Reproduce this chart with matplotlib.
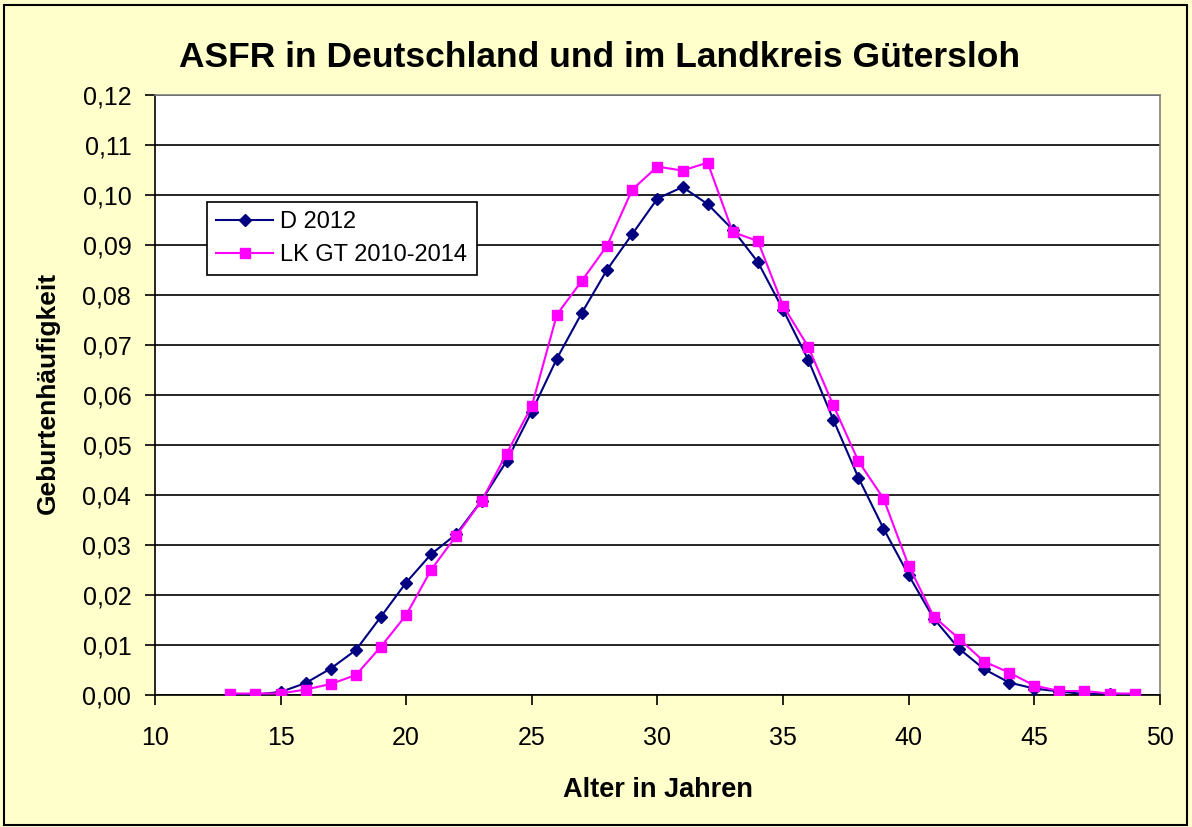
import matplotlib.pyplot as plt
from matplotlib.patches import Rectangle

ages = list(range(13, 50))
d_2012 = [0.0000, 0.0001, 0.0006, 0.0024, 0.0053, 0.0090, 0.0157, 0.0225, 0.0282, 0.0322,
          0.0389, 0.0468, 0.0567, 0.0673, 0.0765, 0.0851, 0.0922, 0.0993, 0.1016, 0.0982,
          0.0931, 0.0866, 0.0771, 0.0671, 0.0551, 0.0435, 0.0333, 0.0240, 0.0153, 0.0093,
          0.0052, 0.0025, 0.0013, 0.0007, 0.0002, 0.0003, 0.0001]
lk_gt = [0.0003, 0.0003, 0.0003, 0.0011, 0.0022, 0.0040, 0.0097, 0.0160, 0.0251, 0.0319,
         0.0388, 0.0483, 0.0578, 0.0761, 0.0829, 0.0899, 0.1011, 0.1057, 0.1049, 0.1065,
         0.0926, 0.0908, 0.0779, 0.0697, 0.0580, 0.0468, 0.0393, 0.0259, 0.0157, 0.0113,
         0.0067, 0.0045, 0.0019, 0.0008, 0.0008, 0.0003, 0.0003]
y_ticks = [0.00, 0.01, 0.02, 0.03, 0.04, 0.05, 0.06, 0.07, 0.08, 0.09, 0.10, 0.11, 0.12]
x_ticks = [10, 15, 20, 25, 30, 35, 40, 45, 50]

plt.rcParams['font.family'] = ['Liberation Sans', 'DejaVu Sans']

fig = plt.figure(figsize=(11.92, 8.27), dpi=100, facecolor='#FFFFCC')
fig.patches.append(Rectangle((0.003, 0.003), 0.993, 0.991, transform=fig.transFigure,
                             fill=False, edgecolor='black', linewidth=1.5))
ax = fig.add_axes([0.130, 0.1596, 0.843, 0.7254])
ax.set_facecolor('white')

ax.plot(ages, d_2012, color='#000080', marker='D', markersize=6.5, linewidth=1.5, label='D 2012', zorder=3)
ax.plot(ages, lk_gt, color='#FF00FF', marker='s', markersize=7.5, linewidth=1.5,
        label='LK GT 2010-2014', zorder=4)

ax.set_xlim(10, 50)
ax.set_ylim(0, 0.12)
ax.set_xticks(x_ticks)
ax.set_yticks(y_ticks)
ax.set_yticklabels([f'{v:.2f}'.replace('.', ',') for v in y_ticks])
ax.tick_params(axis='both', labelsize=18, direction='out', length=7, width=1.2, color='black')
ax.tick_params(axis='x', pad=15)
ax.tick_params(axis='y', pad=10)
ax.yaxis.grid(True, color='black', linewidth=1.2)
ax.set_axisbelow(True)

for side in ['top', 'right']:
    ax.spines[side].set_color('#808080')
    ax.spines[side].set_linewidth(1.2)
for side in ['left', 'bottom']:
    ax.spines[side].set_color('black')
    ax.spines[side].set_linewidth(1.2)

fig.text(0.5516, 0.0363, 'Alter in Jahren', ha='center', va='baseline',
         fontsize=19.5, fontweight='bold')
fig.text(0.040, 0.525, 'Geburtenhäufigkeit', ha='center', va='center', rotation=90,
         fontsize=19, fontweight='bold')
fig.text(0.503, 0.919, 'ASFR in Deutschland und im Landkreis Gütersloh', ha='center', va='baseline',
         fontsize=25.5, fontweight='bold')

leg = ax.legend(loc='upper left', bbox_to_anchor=(0.0517, 0.822), fontsize=17, frameon=True,
                fancybox=False, edgecolor='black', framealpha=1, borderpad=0.4,
                handlelength=2.4, handletextpad=0.3, labelspacing=0.45, borderaxespad=0)
leg.get_frame().set_linewidth(1.2)

fig.savefig('out.png', dpi=100, facecolor=fig.get_facecolor())
